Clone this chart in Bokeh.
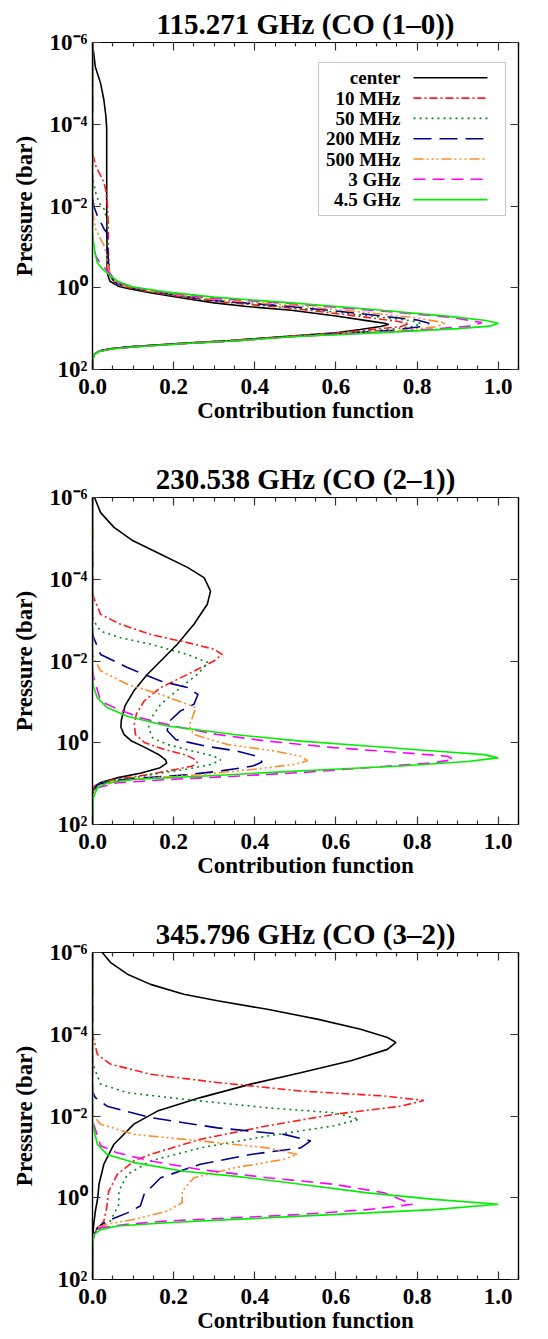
from bokeh.plotting import figure
from bokeh.models import (Range1d, FixedTicker, LinearAxis, LogAxis, CustomJSTickFormatter,
                          Label, Arrow, BoxAnnotation, Title)
from bokeh.layouts import column
from bokeh.embed import file_html
from bokeh.resources import INLINE

FONT = "Liberation Serif"

# ---------------- series definitions ----------------
SERIES = ["center", "10 MHz", "50 MHz", "200 MHz", "500 MHz", "3 GHz", "4.5 GHz"]
COLORS = ["#000000", "#ff1a1a", "#008a1a", "#00008b", "#ff8c2a", "#ff00ff", "#00ee00"]
DASHES = ["solid", "8 3 2 3", "2 4", "18 8", "10 3 2 3 2 3 2 3", "12 7", "solid"]

TITLES = ["115.271 GHz (CO (1\u20130))", "230.538 GHz (CO (2\u20131))", "345.796 GHz (CO (3\u20132))"]

X_MAJOR = [0.0, 0.2, 0.4, 0.6, 0.8, 1.0]
X_MINOR = [0.05, 0.1, 0.15, 0.25, 0.3, 0.35, 0.45, 0.5, 0.55, 0.65, 0.7, 0.75,
           0.85, 0.9, 0.95, 1.05]
Y_EXPONENTS = [-6, -4, -2, 0, 2]
Y_TICK_LABELS = ["10\u207b\u2076", "10\u207b\u2074", "10\u207b\u00b2", "10\u2070", "10\u00b2"]

# ---------------- data: (contribution function, log10 pressure [bar]) ----------------
# Panel 1: 115.271 GHz (CO 1-0)
co10_center = [(0.0, -6.0), (0.007, -5.4), (0.02, -5.0), (0.028, -4.6), (0.033, -4.2), (0.035, -3.9),
               (0.035, -2.0), (0.036, -0.5), (0.038, -0.3), (0.043, -0.16), (0.063, -0.04), (0.087, 0.02),
               (0.142, 0.12), (0.221, 0.25), (0.30, 0.37), (0.38, 0.46), (0.49, 0.55), (0.60, 0.69),
               (0.68, 0.81), (0.72, 0.87), (0.73, 0.9), (0.71, 0.95), (0.66, 1.02), (0.60, 1.1),
               (0.49, 1.18), (0.34, 1.29), (0.22, 1.36), (0.10, 1.44), (0.047, 1.49), (0.016, 1.55),
               (0.004, 1.63), (0.0, 1.8), (0.0, 2.0)]
co10_10mhz = [(0.0, -6.0), (0.0, -3.3), (0.008, -2.98), (0.016, -2.82), (0.025, -2.65), (0.033, -2.4),
              (0.037, -2.0), (0.039, -1.5), (0.039, -0.9), (0.041, -0.45), (0.045, -0.25), (0.06, -0.07),
              (0.09, 0.0), (0.14, 0.1), (0.22, 0.22), (0.30, 0.33), (0.49, 0.5), (0.65, 0.69),
              (0.75, 0.82), (0.78, 0.88), (0.76, 0.95), (0.70, 1.01), (0.60, 1.11), (0.49, 1.18),
              (0.34, 1.29), (0.22, 1.36), (0.10, 1.44), (0.047, 1.49), (0.016, 1.55), (0.004, 1.63),
              (0.0, 1.8), (0.0, 2.0)]
co10_50mhz = [(0.0, -6.0), (0.0, -2.7), (0.008, -2.33), (0.016, -2.08), (0.029, -1.92), (0.035, -1.67),
              (0.037, -1.18), (0.039, -0.45), (0.045, -0.25), (0.06, -0.08), (0.09, -0.01), (0.14, 0.09),
              (0.22, 0.21), (0.30, 0.32), (0.49, 0.48), (0.65, 0.65), (0.78, 0.8), (0.81, 0.87),
              (0.79, 0.95), (0.72, 1.03), (0.60, 1.12), (0.49, 1.19), (0.34, 1.3), (0.22, 1.36),
              (0.10, 1.44), (0.047, 1.49), (0.016, 1.55), (0.004, 1.63), (0.0, 1.8), (0.0, 2.0)]
co10_200mhz = [(0.0, -6.0), (0.0, -2.3), (0.003, -2.0), (0.012, -1.76), (0.029, -1.43), (0.035, -1.35),
               (0.037, -1.0), (0.041, -0.4), (0.046, -0.25), (0.06, -0.1), (0.09, -0.02), (0.14, 0.08),
               (0.22, 0.2), (0.30, 0.31), (0.49, 0.46), (0.65, 0.62), (0.80, 0.79), (0.83, 0.87),
               (0.81, 0.95), (0.74, 1.04), (0.60, 1.13), (0.49, 1.19), (0.34, 1.3), (0.22, 1.37),
               (0.10, 1.44), (0.047, 1.49), (0.016, 1.55), (0.004, 1.63), (0.0, 1.8), (0.0, 2.0)]
co10_500mhz = [(0.0, -6.0), (0.0, -1.9), (0.008, -1.43), (0.016, -1.27), (0.029, -1.02), (0.035, -0.78),
               (0.039, -0.45), (0.046, -0.27), (0.06, -0.11), (0.09, -0.03), (0.14, 0.07), (0.22, 0.19),
               (0.30, 0.29), (0.49, 0.43), (0.65, 0.58), (0.80, 0.74), (0.87, 0.86), (0.85, 0.95),
               (0.77, 1.04), (0.60, 1.14), (0.49, 1.2), (0.34, 1.3), (0.22, 1.37), (0.10, 1.45),
               (0.047, 1.5), (0.016, 1.55), (0.004, 1.63), (0.0, 1.8), (0.0, 2.0)]
co10_3ghz = [(0.0, -6.0), (0.0, -1.2), (0.008, -0.78), (0.016, -0.65), (0.029, -0.49), (0.041, -0.37),
             (0.05, -0.27), (0.063, -0.13), (0.09, -0.04), (0.14, 0.06), (0.22, 0.17), (0.30, 0.26),
             (0.49, 0.39), (0.70, 0.56), (0.88, 0.72), (0.96, 0.85), (0.94, 0.93), (0.85, 1.0),
             (0.75, 1.07), (0.60, 1.14), (0.49, 1.2), (0.34, 1.31), (0.22, 1.37), (0.10, 1.45),
             (0.047, 1.5), (0.016, 1.56), (0.004, 1.64), (0.0, 1.8), (0.0, 2.0)]
co10_45ghz = [(0.0, -6.0), (0.0, -1.3), (0.006, -0.86), (0.012, -0.61), (0.025, -0.45), (0.041, -0.33),
              (0.063, -0.15), (0.10, -0.02), (0.18, 0.1), (0.30, 0.23), (0.49, 0.37), (0.70, 0.54),
              (0.88, 0.7), (0.97, 0.8), (1.0, 0.87), (0.98, 0.94), (0.90, 1.0), (0.75, 1.08),
              (0.60, 1.15), (0.49, 1.2), (0.34, 1.31), (0.22, 1.37), (0.10, 1.45), (0.047, 1.5),
              (0.016, 1.56), (0.004, 1.64), (0.0, 1.8), (0.0, 2.0)]

# Panel 2: 230.538 GHz (CO 2-1)
co21_center = [(0.005, -6.0), (0.02, -5.63), (0.053, -5.27), (0.10, -4.94), (0.168, -4.61), (0.234, -4.29),
               (0.275, -4.04), (0.291, -3.71), (0.283, -3.39), (0.25, -2.9), (0.209, -2.41), (0.176, -2.08),
               (0.135, -1.67), (0.102, -1.27), (0.08, -0.9), (0.071, -0.55), (0.07, -0.38), (0.078, -0.2),
               (0.095, -0.05), (0.13, 0.12), (0.165, 0.3), (0.18, 0.42), (0.183, 0.5), (0.165, 0.62),
               (0.12, 0.74), (0.06, 0.86), (0.02, 0.97), (0.004, 1.1), (0.0, 1.3), (0.0, 2.0)]
co21_10mhz = [(0.0, -6.0), (0.0, -3.7), (0.003, -3.55), (0.02, -3.14), (0.069, -2.9), (0.143, -2.65),
              (0.234, -2.45), (0.299, -2.29), (0.32, -2.16), (0.299, -2.0), (0.234, -1.67), (0.168, -1.35),
              (0.127, -1.02), (0.108, -0.7), (0.103, -0.45), (0.106, -0.2), (0.129, 0.0), (0.176, 0.16),
              (0.23, 0.3), (0.255, 0.42), (0.258, 0.49), (0.246, 0.57), (0.207, 0.65), (0.137, 0.78),
              (0.074, 0.87), (0.027, 0.95), (0.004, 1.06), (0.0, 1.3), (0.0, 2.0)]
co21_50mhz = [(0.0, -6.0), (0.0, -3.1), (0.003, -2.98), (0.02, -2.73), (0.069, -2.57), (0.143, -2.41),
              (0.234, -2.16), (0.285, -1.96), (0.258, -1.67), (0.217, -1.35), (0.168, -0.94), (0.145, -0.61),
              (0.138, -0.37), (0.148, -0.12), (0.184, 0.04), (0.246, 0.2), (0.30, 0.33), (0.316, 0.42),
              (0.293, 0.53), (0.23, 0.65), (0.176, 0.73), (0.098, 0.86), (0.035, 0.94), (0.004, 1.06),
              (0.0, 1.3), (0.0, 2.0)]
co21_200mhz = [(0.0, -6.0), (0.0, -2.7), (0.003, -2.57), (0.02, -2.16), (0.086, -1.84), (0.168, -1.51),
               (0.234, -1.35), (0.26, -1.18), (0.25, -0.94), (0.217, -0.78), (0.19, -0.53), (0.184, -0.3),
               (0.205, -0.08), (0.277, 0.08), (0.355, 0.2), (0.406, 0.33), (0.418, 0.47), (0.395, 0.57),
               (0.316, 0.69), (0.238, 0.78), (0.137, 0.85), (0.059, 0.92), (0.012, 1.02), (0.0, 1.3),
               (0.0, 2.0)]
co21_500mhz = [(0.0, -6.0), (0.0, -2.2), (0.003, -2.08), (0.02, -1.76), (0.086, -1.43), (0.168, -1.18),
               (0.234, -0.94), (0.255, -0.86), (0.246, -0.61), (0.238, -0.41), (0.25, -0.2), (0.332, 0.04),
               (0.447, 0.2), (0.513, 0.33), (0.53, 0.44), (0.497, 0.53), (0.398, 0.65), (0.266, 0.78),
               (0.143, 0.86), (0.061, 0.94), (0.012, 1.08), (0.0, 1.3), (0.0, 2.0)]
co21_3ghz = [(0.0, -6.0), (0.0, -1.8), (0.003, -1.59), (0.02, -1.02), (0.053, -0.86), (0.118, -0.61),
             (0.20, -0.41), (0.308, -0.2), (0.431, -0.04), (0.595, 0.12), (0.76, 0.24), (0.875, 0.33),
             (0.89, 0.41), (0.842, 0.49), (0.678, 0.61), (0.513, 0.73), (0.349, 0.82), (0.184, 0.9),
             (0.061, 0.98), (0.012, 1.1), (0.0, 1.3), (0.0, 2.0)]
co21_45ghz = [(0.0, -6.0), (0.0, -1.6), (0.003, -1.35), (0.012, -1.1), (0.036, -0.86), (0.086, -0.65),
              (0.184, -0.41), (0.349, -0.2), (0.513, -0.04), (0.678, 0.08), (0.842, 0.2), (0.965, 0.29),
              (1.0, 0.37), (0.924, 0.46), (0.76, 0.57), (0.595, 0.65), (0.431, 0.73), (0.266, 0.82),
              (0.102, 0.9), (0.036, 0.98), (0.012, 1.1), (0.002, 1.35), (0.0, 2.0)]

# Panel 3: 345.796 GHz (CO 3-2)
co32_center = [(0.024, -6.0), (0.044, -5.76), (0.086, -5.47), (0.143, -5.22), (0.225, -4.98), (0.308, -4.82),
               (0.431, -4.61), (0.554, -4.37), (0.661, -4.12), (0.727, -3.92), (0.748, -3.8), (0.727, -3.63),
               (0.637, -3.35), (0.513, -3.06), (0.39, -2.78), (0.266, -2.45), (0.16, -2.12), (0.102, -1.8),
               (0.053, -1.31), (0.028, -0.82), (0.016, -0.33), (0.013, 0.0), (0.007, 0.33), (0.003, 0.65),
               (0.001, 0.9), (0.0, 1.2), (0.0, 2.0)]
co32_10mhz = [(0.0, -6.0), (0.0, -4.0), (0.003, -3.88), (0.012, -3.51), (0.044, -3.27), (0.143, -3.02),
              (0.308, -2.82), (0.513, -2.61), (0.719, -2.49), (0.817, -2.38), (0.76, -2.24), (0.595, -2.04),
              (0.431, -1.76), (0.266, -1.43), (0.143, -1.06), (0.102, -0.9), (0.061, -0.57), (0.04, -0.16),
              (0.035, 0.24), (0.028, 0.57), (0.016, 0.73), (0.003, 0.9), (0.0, 1.2), (0.0, 2.0)]
co32_50mhz = [(0.0, -6.0), (0.0, -3.4), (0.003, -3.22), (0.02, -2.78), (0.086, -2.57), (0.225, -2.41),
              (0.431, -2.2), (0.595, -2.08), (0.657, -1.92), (0.595, -1.76), (0.431, -1.51), (0.266, -1.22),
              (0.143, -0.9), (0.086, -0.57), (0.065, -0.16), (0.065, 0.16), (0.044, 0.57), (0.02, 0.73),
              (0.003, 0.9), (0.0, 1.2), (0.0, 2.0)]
co32_200mhz = [(0.0, -6.0), (0.0, -2.6), (0.007, -2.45), (0.036, -2.24), (0.143, -1.96), (0.308, -1.71),
               (0.472, -1.55), (0.538, -1.39), (0.513, -1.22), (0.39, -1.06), (0.266, -0.82), (0.168, -0.49),
               (0.127, -0.08), (0.118, 0.2), (0.086, 0.37), (0.036, 0.57), (0.012, 0.73), (0.0, 1.0),
               (0.0, 2.0)]
co32_500mhz = [(0.0, -6.0), (0.0, -2.1), (0.003, -2.0), (0.02, -1.8), (0.102, -1.55), (0.266, -1.39),
               (0.431, -1.22), (0.505, -1.06), (0.472, -0.94), (0.349, -0.73), (0.25, -0.49), (0.221, -0.16),
               (0.221, 0.12), (0.184, 0.33), (0.102, 0.53), (0.036, 0.65), (0.012, 0.73), (0.0, 1.0),
               (0.0, 2.0)]
co32_3ghz = [(0.0, -6.0), (0.0, -1.9), (0.003, -1.8), (0.02, -1.27), (0.061, -1.1), (0.143, -0.9),
             (0.266, -0.69), (0.431, -0.49), (0.595, -0.33), (0.719, -0.12), (0.789, 0.16), (0.678, 0.29),
             (0.513, 0.41), (0.349, 0.49), (0.184, 0.57), (0.086, 0.65), (0.02, 0.73), (0.0, 1.0), (0.0, 2.0)]
co32_45ghz = [(0.0, -6.0), (0.0, -1.9), (0.003, -1.7), (0.012, -1.31), (0.036, -1.06), (0.102, -0.86),
              (0.225, -0.65), (0.349, -0.53), (0.513, -0.33), (0.678, -0.12), (0.842, 0.04), (1.0, 0.16),
              (0.842, 0.29), (0.678, 0.37), (0.513, 0.45), (0.349, 0.53), (0.184, 0.61), (0.061, 0.69),
              (0.02, 0.78), (0.003, 0.9), (0.0, 1.2), (0.0, 2.0)]

PANELS = [
    [co10_center, co10_10mhz, co10_50mhz, co10_200mhz, co10_500mhz, co10_3ghz, co10_45ghz],
    [co21_center, co21_10mhz, co21_50mhz, co21_200mhz, co21_500mhz, co21_3ghz, co21_45ghz],
    [co32_center, co32_10mhz, co32_50mhz, co32_200mhz, co32_500mhz, co32_3ghz, co32_45ghz],
]
HEIGHTS = [455, 455, 429]

TICK_FONT = "23px"
LABEL_FONT = "23px"


def style_axis(ax, show_labels):
    ax.major_tick_in = 8
    ax.major_tick_out = 0
    ax.minor_tick_in = 4
    ax.minor_tick_out = 0
    ax.axis_line_color = "black"
    ax.axis_line_width = 1.2
    ax.major_tick_line_width = 1.2
    ax.minor_tick_line_width = 1.2
    ax.major_tick_line_color = "#333333"
    ax.minor_tick_line_color = "#333333"
    ax.major_label_text_font = FONT
    ax.major_label_text_font_style = "bold"
    ax.major_label_text_color = "black"
    ax.axis_label_text_font = FONT
    ax.axis_label_text_font_style = "bold"
    ax.axis_label_text_color = "black"
    ax.axis_label_text_font_size = LABEL_FONT
    if show_labels:
        ax.major_label_text_font_size = TICK_FONT
    else:
        ax.major_label_text_font_size = "0px"
        ax.major_label_standoff = 0


def make_panel(idx):
    h = HEIGHTS[idx]
    p = figure(width=548, height=h, x_range=Range1d(0, 1.05), y_range=Range1d(1e2, 1e-6),
               y_axis_type="log", output_backend="svg", toolbar_location=None,
               min_border_left=92, min_border_right=30, min_border_top=42,
               min_border_bottom=h - 369, title=None)
    p.background_fill_color = "white"
    p.border_fill_color = "white"
    p.outline_line_color = "black"
    p.outline_line_width = 1.2
    p.xgrid.visible = False
    p.ygrid.visible = False

    xt = FixedTicker(ticks=X_MAJOR, minor_ticks=X_MINOR)
    yt = FixedTicker(ticks=[10.0 ** e for e in Y_EXPONENTS], minor_ticks=[])
    yfmt = CustomJSTickFormatter(args=dict(exps=Y_EXPONENTS, labels=Y_TICK_LABELS), code="""
        const e = Math.round(Math.log10(tick));
        const i = exps.indexOf(e);
        return i >= 0 ? labels[i] : "";
    """)
    xfmt = CustomJSTickFormatter(code="return tick.toFixed(1);")

    xa = p.xaxis[0]
    xa.ticker = xt
    xa.formatter = xfmt
    xa.axis_label = "Contribution function"
    style_axis(xa, True)
    xa.major_label_standoff = 9
    xa.axis_label_standoff = 1

    ya = p.yaxis[0]
    ya.ticker = yt
    ya.formatter = yfmt
    ya.axis_label = "Pressure (bar)"
    style_axis(ya, True)
    ya.major_label_standoff = 5
    ya.axis_label_standoff = 10

    top = LinearAxis(ticker=FixedTicker(ticks=X_MAJOR, minor_ticks=X_MINOR),
                     formatter=CustomJSTickFormatter(code="return '';"))
    style_axis(top, False)
    p.add_layout(top, "above")
    right = LogAxis(ticker=FixedTicker(ticks=[10.0 ** e for e in Y_EXPONENTS], minor_ticks=[]),
                    formatter=CustomJSTickFormatter(code="return '';"))
    style_axis(right, False)
    p.add_layout(right, "right")

    p.add_layout(Title(text=TITLES[idx], align="center", text_font=FONT, text_font_style="bold",
                       text_font_size="29px", text_color="black", standoff=6), "above")

    for pts, name, color, dash in zip(PANELS[idx], SERIES, COLORS, DASHES):
        xs = [v for v, _ in pts]
        ys = [10.0 ** lp for _, lp in pts]
        p.line(xs, ys, line_color=color, line_dash=dash, line_width=1.6)

    if idx == 0:
        # legend box (screen units relative to the plot frame)
        p.add_layout(BoxAnnotation(left=226, right=413, top=307, bottom=154,
                                   left_units="screen", right_units="screen",
                                   top_units="screen", bottom_units="screen",
                                   fill_color="white", fill_alpha=1.0,
                                   line_color="#444444", line_width=1.2, level="annotation"))
        for i, (name, color, dash) in enumerate(zip(SERIES, COLORS, DASHES)):
            yy = 369 - (77.3 + i * 20.3)
            p.add_layout(Label(x=308, y=yy, x_units="screen", y_units="screen", text=name,
                               text_align="right", text_baseline="middle", text_font=FONT,
                               text_font_style="bold", text_font_size="19px", text_color="black"))
            p.add_layout(Arrow(end=None, x_start=321, y_start=yy, x_end=395, y_end=yy,
                               start_units="screen", end_units="screen",
                               line_color=color, line_dash=dash, line_width=1.6))
    return p


figs = [make_panel(i) for i in range(3)]
layout = column(*figs, spacing=0)
open("out.html", "w").write(file_html(layout, INLINE))
